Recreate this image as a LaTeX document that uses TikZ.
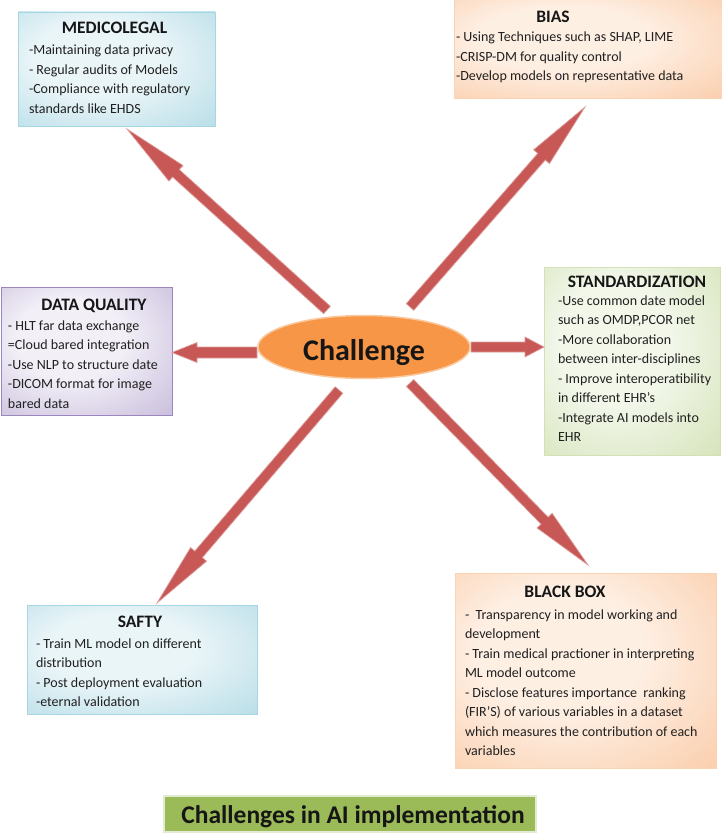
\documentclass[tikz,border=0pt]{standalone}
\usepackage{fontspec}
\setmainfont{Carlito}
\usetikzlibrary{calc,shapes.geometric}
\definecolor{medin}{HTML}{EAF5F8}
\definecolor{medout}{HTML}{98CFDD}
\definecolor{medborder}{HTML}{A6D6E3}
\definecolor{biasin}{HTML}{FEEFE3}
\definecolor{biasout}{HTML}{F8B888}
\definecolor{biasborder}{HTML}{FAD3B2}
\definecolor{dqin}{HTML}{F2EFF7}
\definecolor{dqout}{HTML}{AE9DCA}
\definecolor{dqborder}{HTML}{9B87BE}
\definecolor{stdin}{HTML}{F2F7EA}
\definecolor{stdout}{HTML}{C3D79B}
\definecolor{stdborder}{HTML}{D3E2B6}
\definecolor{arrowred}{HTML}{C75856}
\definecolor{arrowedge}{HTML}{DE9D9B}
\definecolor{ellfill}{HTML}{F79646}
\definecolor{ellborder}{HTML}{FAC9A0}
\definecolor{titlegreen}{HTML}{9BBB59}
\definecolor{titleglow}{HTML}{E3EBD4}
\definecolor{titlecol}{HTML}{161616}
\definecolor{bodycol}{HTML}{202020}
\colorlet{innerc}{white}
\colorlet{outerc}{gray}
\pgfdeclareradialshading[innerc,outerc]{panelrad}{\pgfpoint{-6bp}{6bp}}{%
  color(0bp)=(innerc); color(16bp)=(innerc); color(56bp)=(outerc); color(80bp)=(outerc)}
\newcommand{\blines}[1]{\begin{tabular}[t]{@{}l@{}}#1\end{tabular}}
\newcommand{\blockarrow}[5]{%
  \coordinate (#2-hb) at ($(#2)!#5pt!(#1)$);
  \path[arrowfill] ($(#1)!#3pt!90:(#2)$) -- ($(#2-hb)!#3pt!90:(#2)$)
    -- ($(#2-hb)!#4pt!90:(#2)$) -- (#2) -- ($(#2-hb)!#4pt!-90:(#2)$)
    -- ($(#2-hb)!#3pt!-90:(#2)$) -- ($(#1)!#3pt!-90:(#2)$) -- cycle;}
\tikzset{
  every node/.style={inner sep=0pt, outer sep=0pt},
  panel/.style={rectangle, draw, line width=0.8pt, shading=panelrad},
  ttl/.style={anchor=base, font=\fontsize{17.5}{20}\selectfont\bfseries, text=titlecol},
  bodytext/.style={anchor=base west, font=\fontsize{14}{19.5}\selectfont, text=bodycol},
  arrowfill/.style={fill=arrowred, draw=arrowedge, line width=0.7pt, line join=miter},
}
\begin{document}
\begin{tikzpicture}[x=1pt,y=-1pt]
\useasboundingbox (0,0) rectangle (722,840);
% panels
\colorlet{innerc}{medin}\colorlet{outerc}{medout}
\node[panel, draw=medborder, minimum width=197, minimum height=114] (med) at (116.5,69) {};
\node[panel, draw=medborder, minimum width=230, minimum height=109] (safty) at (142,659.5) {};
\colorlet{innerc}{biasin}\colorlet{outerc}{biasout}
\node[panel, draw=biasborder, minimum width=270, minimum height=100] (bias) at (589,48) {};
\node[panel, draw=biasborder, minimum width=261, minimum height=195] (bb) at (585.5,670.5) {};
\colorlet{innerc}{dqin}\colorlet{outerc}{dqout}
\node[panel, draw=dqborder, minimum width=171, minimum height=128] (dq) at (86.5,351) {};
\colorlet{innerc}{stdin}\colorlet{outerc}{stdout}
\node[panel, draw=stdborder, minimum width=176, minimum height=188] (std) at (632,361) {};
% texts
\node[ttl] (medT) at (114.5,34) {MEDICOLEGAL};
\node[bodytext] (medB) at (29,55) {\blines{-Maintaining data privacy\\ - Regular audits of Models\\ -Compliance with regulatory\\ standards like EHDS}};
\node[ttl] (biasT) at (553,23) {BIAS};
\node[bodytext] (biasB) at (456,42) {\blines{- Using Techniques such as SHAP, LIME\\ -CRISP-DM for quality control\\ -Develop models on representative data}};
\node[ttl] (dqT) at (94,310) {DATA QUALITY};
\node[bodytext] (dqB) at (8,330) {\blines{- HLT far data exchange\\ =Cloud bared integration\\ -Use NLP to structure date\\ -DICOM format for image\\ bared data}};
\node[ttl] (stdT) at (637,287) {STANDARDIZATION};
\node[bodytext] (stdB) at (558,305) {\blines{-Use common date model\\ such as OMDP,PCOR net\\ -More collaboration\\ between inter-disciplines\\ - Improve interoperatibility\\ in different EHR’s\\ -Integrate AI models into\\ EHR}};
\node[ttl] (saftyT) at (140,627) {SAFTY};
\node[bodytext] (saftyB) at (36,648) {\blines{- Train ML model on different\\ distribution\\ - Post deployment evaluation\\ -eternal validation}};
\node[ttl] (bbT) at (565,597) {BLACK BOX};
\node[bodytext] (bbB) at (465,619) {\blines{- \ Transparency in model working and\\ development\\ - Train medical practioner in interpreting\\ ML model outcome\\ - Disclose features importance \ ranking\\ (FIR’S) of various variables in a dataset\\ which measures the contribution of each\\ variables}};
% arrows
\coordinate (nwT) at (327,310); \coordinate (nwP) at (127,129);
\coordinate (neT) at (410,307); \coordinate (neP) at (585,107);
\coordinate (seT) at (410,383); \coordinate (seP) at (588,565);
\coordinate (swT) at (339,390); \coordinate (swP) at (157,603);
\coordinate (wT) at (257,352.5); \coordinate (wP) at (172,352.5);
\coordinate (eT) at (471,347); \coordinate (eP) at (544,347);
\blockarrow{nwT}{nwP}{5}{10.5}{66}
\blockarrow{neT}{neP}{5}{10.5}{66}
\blockarrow{seT}{seP}{5}{10.5}{62}
\blockarrow{swT}{swP}{5}{10.5}{64}
\blockarrow{wT}{wP}{5.5}{10}{25}
\blockarrow{eT}{eP}{5}{10}{19}
% centre
\node[ellipse, fill=ellfill, draw=ellborder, line width=1.5pt, minimum width=212, minimum height=63] (ch) at (364,347) {};
\node[anchor=base, font=\fontsize{30}{34}\selectfont\bfseries, text=titlecol] (chT) at (364,360) {Challenge};
% bottom title
\node[rectangle, fill=titlegreen, draw=titleglow, line width=2.5pt, minimum width=372, minimum height=36] (bottom) at (350,814) {};
\node[anchor=base, font=\fontsize{25.5}{28}\selectfont\bfseries, text=titlecol] (bottomT) at (353,823) {Challenges in AI implementation};
\end{tikzpicture}
\end{document}
